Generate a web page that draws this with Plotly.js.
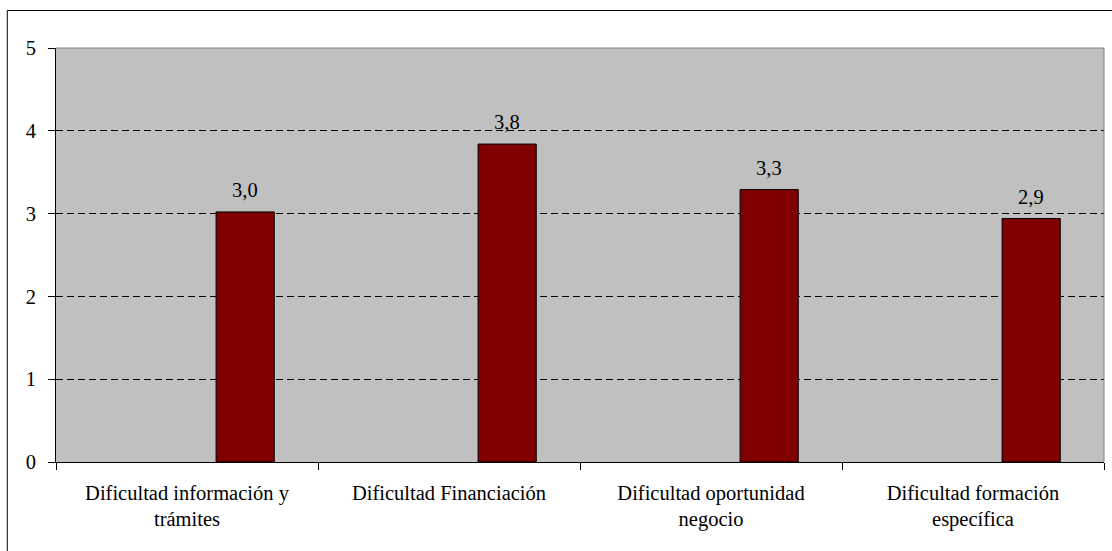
<!DOCTYPE html>
<html>
<head>
<meta charset="utf-8">
<script src="https://cdn.plot.ly/plotly-3.0.1.min.js"></script>
<style>html,body{margin:0;padding:0;background:#fff;}#chart{width:1112px;height:551px;}</style>
</head>
<body>
<div id="chart"></div>
<script>
const categories = [
  "Dificultad información y<br>trámites",
  "Dificultad Financiación",
  "Dificultad oportunidad<br>negocio",
  "Dificultad formación<br>específica"
];
const values = [3.02, 3.84, 3.29, 2.94];
const yTicks = [0, 1, 2, 3, 4, 5];

const FONT = "Liberation Serif";
const barWidth = 0.222;
const barOffset = 0.111;

const trace = {
  type: "bar",
  x: categories,
  y: values,
  width: barWidth,
  offset: barOffset,
  marker: { color: "#800000", line: { color: "#000000", width: 1 } },
  hoverinfo: "skip",
  showlegend: false
};

const annotations = values.map((v, i) => ({
  x: i + barOffset + barWidth / 2,
  y: v,
  xref: "x",
  yref: "y",
  text: v.toFixed(1).replace(".", ","),
  showarrow: false,
  xanchor: "center",
  yanchor: "bottom",
  yshift: 9,
  font: { family: FONT, size: 20.5, color: "#000" }
}));

const layout = {
  width: 1112,
  height: 551,
  margin: { l: 56, r: 8, t: 48, b: 89, pad: 0 },
  paper_bgcolor: "#ffffff",
  plot_bgcolor: "#C0C0C0",
  font: { family: FONT, size: 20.5, color: "#000" },
  xaxis: {
    type: "category",
    range: [-0.5, 3.5],
    showgrid: false,
    zeroline: false,
    showline: true,
    linecolor: "#000",
    linewidth: 1,
    ticks: "outside",
    tickson: "boundaries",
    ticklen: 7,
    tickcolor: "#000",
    ticklabelstandoff: 12,
    tickfont: { family: FONT, size: 20.5, color: "#000" },
    fixedrange: true
  },
  yaxis: {
    range: [0, 5],
    tickvals: yTicks,
    ticktext: yTicks.map(String),
    showgrid: true,
    gridcolor: "#000",
    gridwidth: 1,
    griddash: "7px,4px",
    zeroline: false,
    showline: true,
    linecolor: "#000",
    linewidth: 1,
    ticks: "outside",
    ticklen: 7,
    tickcolor: "#000",
    ticklabelstandoff: 8,
    tickfont: { family: FONT, size: 20.5, color: "#000" },
    fixedrange: true
  },
  shapes: [
    { type: "line", xref: "paper", yref: "paper", x0: 0, x1: 1, y0: 1, y1: 1, line: { color: "#808080", width: 1 }, layer: "above" },
    { type: "line", xref: "paper", yref: "paper", x0: 1, x1: 1, y0: 0, y1: 1, line: { color: "#808080", width: 1 }, layer: "above" },
    { type: "rect", xref: "paper", yref: "paper", x0: -0.0465, x1: 1.06, y0: -0.3, y1: 1.0906, line: { color: "#000", width: 1 }, fillcolor: "rgba(0,0,0,0)", layer: "below" }
  ],
  annotations: annotations,
  bargap: 0
};

Plotly.newPlot("chart", [trace], layout, { staticPlot: true, displayModeBar: false });
</script>
</body>
</html>
